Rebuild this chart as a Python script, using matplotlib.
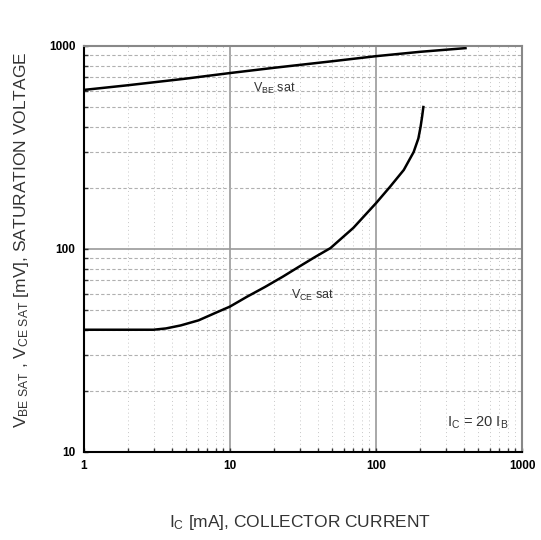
import numpy as np
import matplotlib
matplotlib.use("Agg")
import matplotlib.pyplot as plt
from matplotlib.ticker import LogLocator, FixedLocator, NullFormatter

plt.rcParams['font.family'] = ['Liberation Sans', 'DejaVu Sans']
plt.rcParams['mathtext.fontset'] = 'custom'
plt.rcParams['mathtext.rm'] = 'Liberation Sans'
plt.rcParams['mathtext.it'] = 'Liberation Sans'

# Datos
ic_vbe = [1, 2, 5, 10, 20, 50, 100, 200, 410]
vbe_sat = [607, 640, 690, 735, 780, 840, 890, 935, 975]

ic_vce = [1, 2, 3, 3.65, 4.6, 6.1, 8, 10, 13, 17.4, 23, 29.1, 38, 48.8, 70, 100, 124.5, 155, 181, 195, 202, 207, 211]
vce_sat = [40, 40, 40, 40.6, 42, 44.5, 48.5, 52, 58, 65, 73, 81, 91, 101, 127, 168, 202, 245, 300, 350, 400, 450, 500]

x_ticks = [1, 10, 100, 1000]
y_ticks = [10, 100, 1000]

fig = plt.figure(figsize=(5.41, 5.40), dpi=100)
ax = fig.add_axes([0.155, 0.163, 0.81, 0.752])
ax.set_xscale("log")
ax.set_yscale("log")
ax.set_xlim(1, 1000)
ax.set_ylim(10, 1000)

# Rejilla
ax.grid(True, which="major", color="#9a9a9a", linewidth=1.2, linestyle="-")
ax.grid(True, which="minor", axis="y", color="#b0b0b0", linewidth=0.8, linestyle=(0, (3, 2)))
ax.grid(True, which="minor", axis="x", color="#c8c8c8", linewidth=0.7, linestyle=(0, (1, 3)))

ax.plot(ic_vbe, vbe_sat, color="black", linewidth=1.8, solid_joinstyle="round")
ax.plot(ic_vce, vce_sat, color="black", linewidth=1.8, solid_joinstyle="round")

ax.xaxis.set_major_locator(FixedLocator(x_ticks))
ax.yaxis.set_major_locator(FixedLocator(y_ticks))
ax.set_xticklabels([str(v) for v in x_ticks])
ax.set_yticklabels([str(v) for v in y_ticks])
ax.xaxis.set_minor_locator(LogLocator(base=10, subs=np.arange(2, 10)))
ax.yaxis.set_minor_locator(LogLocator(base=10, subs=np.arange(2, 10)))
ax.xaxis.set_minor_formatter(NullFormatter())
ax.yaxis.set_minor_formatter(NullFormatter())
ax.tick_params(which="both", direction="in", length=3, width=1, color="#333333")
ax.tick_params(which="major", labelsize=8.5, pad=6)
for lbl in ax.get_xticklabels() + ax.get_yticklabels():
    lbl.set_fontweight("bold")

for sp in ax.spines.values():
    sp.set_linewidth(1.5)
ax.spines["top"].set_color("#888888")
ax.spines["right"].set_color("#888888")

# Textos
ax.text(20, 620, r"V$_{\mathrm{BE}}$ sat", fontsize=9, color="#333333", ha="center", va="center")
ax.text(37, 59, r"V$_{\mathrm{CE}}$ sat", fontsize=9, color="#333333", ha="center", va="center")
ax.text(494, 14, r"I$_{\mathrm{C}}$ = 20 I$_{\mathrm{B}}$", fontsize=10.5, color="#333333", ha="center", va="center")

fig.text(0.555, 0.032, r"I$_{\mathrm{C}}$ [mA], COLLECTOR CURRENT", fontsize=12.5, color="#333333",
         ha="center", va="center")
fig.text(0.04, 0.555, r"V$_{\mathrm{BE\ SAT}}$ , V$_{\mathrm{CE\ SAT}}$ [mV], SATURATION VOLTAGE",
         fontsize=12.5, color="#333333", ha="center", va="center", rotation=90)

fig.savefig("out.png", dpi=100)
